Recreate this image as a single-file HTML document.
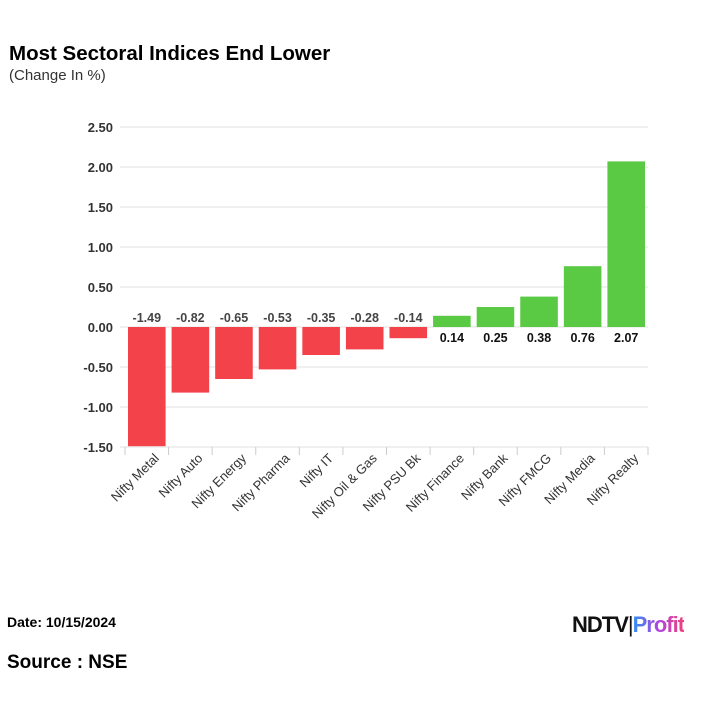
<!DOCTYPE html>
<html><head><meta charset="utf-8"><style>
body{margin:0;background:#fff;font-family:"Liberation Sans",Arial,sans-serif}
#wrap{position:relative;width:720px;height:720px;overflow:hidden}
.t{position:absolute;white-space:nowrap;color:#000}
</style></head><body>
<div id="wrap">
<div class="t" style="left:9px;top:42px;font-size:20.5px;font-weight:bold">Most Sectoral Indices End Lower</div>
<div class="t" style="left:9px;top:67px;font-size:15px;color:#333">(Change In %)</div>
<svg id="chart" width="720" height="560" style="position:absolute;left:0;top:0" font-family="Liberation Sans, Arial, sans-serif"></svg>
<div class="t" style="left:7px;top:614px;font-size:14px;font-weight:bold">Date: 10/15/2024</div>
<div class="t" style="left:7px;top:652px;font-size:19px;font-weight:bold">Source : NSE</div>
<div class="t" style="left:572px;top:612px;font-size:22px;font-weight:900;letter-spacing:-1px">
<span style="color:#111">NDTV</span><span style="color:#111;font-weight:normal">|</span><span style="background:linear-gradient(90deg,#2f8ff0,#b045e0,#f0407a);-webkit-background-clip:text;color:transparent">Profit</span></div>
</div>
<script>
const categories=["Nifty Metal","Nifty Auto","Nifty Energy","Nifty Pharma","Nifty IT","Nifty Oil & Gas","Nifty PSU Bk","Nifty Finance","Nifty Bank","Nifty FMCG","Nifty Media","Nifty Realty"];
const values=[-1.49,-0.82,-0.65,-0.53,-0.35,-0.28,-0.14,0.14,0.25,0.38,0.76,2.07];
const ticks=[-1.5,-1.0,-0.5,0,0.5,1.0,1.5,2.0,2.5];
const NS="http://www.w3.org/2000/svg";
const svg=document.getElementById('chart');
const x0=125,x1=648,yTop=127,yBot=447,vMin=-1.5,vMax=2.5;
const band=(x1-x0)/categories.length;
function y(v){return yBot-(v-vMin)/(vMax-vMin)*(yBot-yTop);}
function xb(i){return x0+i*band;}
function mk(tag,a){const e=document.createElementNS(NS,tag);for(const k in a)e.setAttribute(k,a[k]);svg.appendChild(e);return e;}
ticks.forEach(t=>{
 const g=mk('line',{x1:x0-5,x2:x1,y1:y(t),y2:y(t),stroke:'#e0e0e0','stroke-width':1});
 
 
 const l=mk('text',{x:113,y:y(t)+5,'text-anchor':'end','font-size':13,'font-weight':'bold',fill:'#333'});
 l.textContent=t.toFixed(2);
 
 
});
for(let i=0;i<=categories.length;i++){
 const tk=mk('line',{x1:xb(i),x2:xb(i),y1:yBot,y2:yBot+8,stroke:'#ccc'});
 
 
}
categories.forEach((c,i)=>{
 const v=values[i],bx=xb(i)+3,bw=band-6;
 const top=Math.min(y(v),y(0)),h=Math.abs(y(v)-y(0));
 const r=mk('rect',{x:bx,y:top,width:bw,height:h,fill:v<0?'#f4424b':'#5ac943'});
 
 
 const lv=mk('text',{x:bx+bw/2,y:v<0?y(0)-5:y(0)+15,'text-anchor':'middle','font-size':12.5,'font-weight':'bold',fill:v<0?'#444':'#111'});
 lv.textContent=v.toFixed(2);
 
 
 const cx=xb(i)+band/2+13,cy=yBot+12;
 const lc=mk('text',{x:cx,y:cy,'text-anchor':'end','font-size':13,fill:'#333',transform:`rotate(-45 ${cx} ${cy})`});
 lc.textContent=c;
 
 
});
</script>
</body></html>
